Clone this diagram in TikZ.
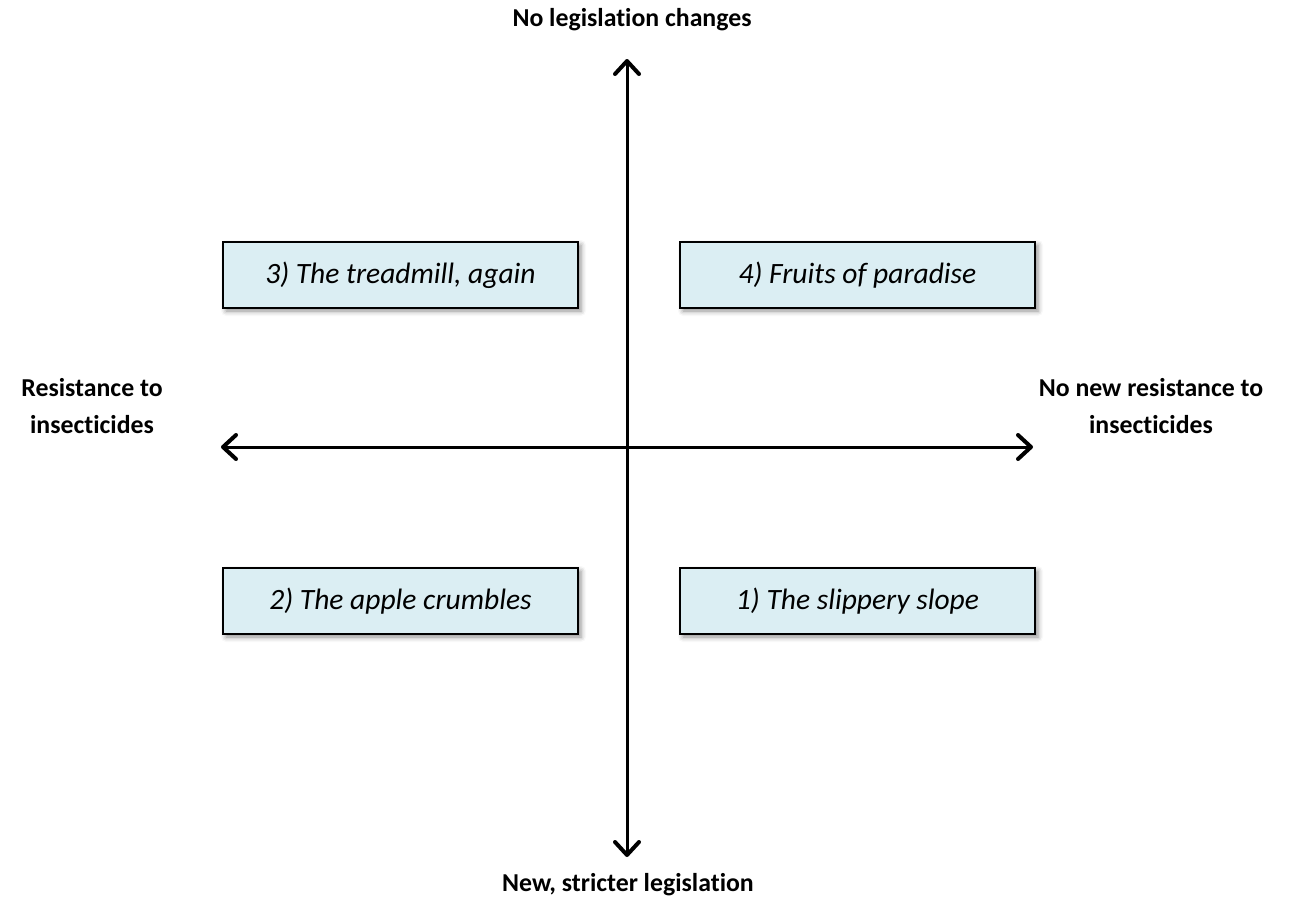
\documentclass[tikz,border=0pt]{standalone}
\usepackage{fontspec}
\setmainfont[Ligatures=NoCommon,RawFeature={-liga;-calt;-dlig}]{Carlito}
\usetikzlibrary{arrows.meta,shadows.blur}
\definecolor{boxfill}{HTML}{DBEEF3}
\tikzset{
  px/.style={x=1pt,y=-1pt},
  axis/.style={line width=3pt,{Straight Barb[length=13pt,width=24pt,line width=4pt,round]}-{Straight Barb[length=13pt,width=24pt,line width=4pt,round]}},
  scen/.style={draw=black,line width=2pt,fill=boxfill,minimum width=355pt,minimum height=66pt,inner sep=0pt,
    font=\fontsize{29.5}{34}\selectfont\itshape,
    blur shadow={shadow xshift=3pt,shadow yshift=-3pt,shadow blur radius=5pt,shadow opacity=45}},
  lab/.style={font=\fontsize{25.8}{37}\selectfont\bfseries,align=center,inner sep=0pt}
}
\begin{document}
\begin{tikzpicture}[px]
\useasboundingbox (0,0) rectangle (1295,903);
\coordinate (top) at (627,59);
\coordinate (bot) at (627,857);
\coordinate (left) at (221,447);
\coordinate (right) at (1033,447);
\draw[axis] (bot) -- (top);
\draw[axis] (left) -- (right);
\node[scen] (s3) at (400.5,275) {3) The treadmill, again};
\node[scen] (s4) at (857.5,275) {4) Fruits of paradise};
\node[scen] (s2) at (400.5,601) {2) The apple crumbles};
\node[scen] (s1) at (857.5,601) {1) The slippery slope};
\node[lab] (lt) at (632,20) {No legislation changes};
\node[lab] (lb) at (628,885) {New, stricter legislation};
\node[lab] (ll) at (92,406) {Resistance to\\insecticides};
\node[lab] (lr) at (1151,406) {No new resistance to\\insecticides};
\end{tikzpicture}
\end{document}
